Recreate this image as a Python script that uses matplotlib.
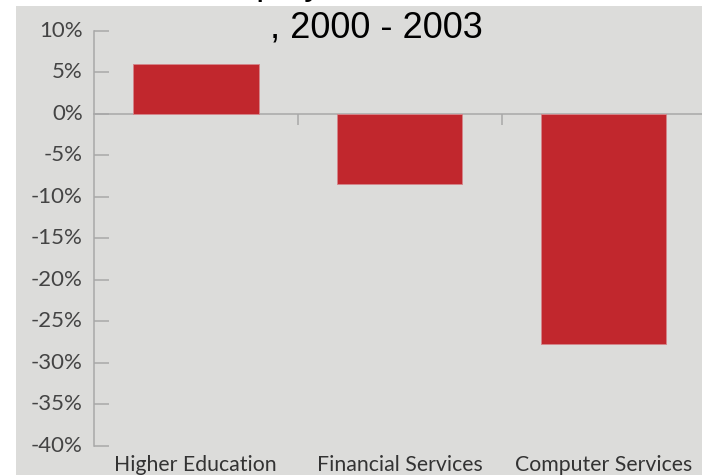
import numpy as np
import matplotlib
matplotlib.use("Agg")
import matplotlib.pyplot as plt
import matplotlib.transforms as mtransforms
from matplotlib.patches import Rectangle

# Employment change by industry, 2000 - 2003 (percent)
categories = ["Higher Education", "Financial Services", "Computer Services"]
changes = [6.0, -8.5, -27.7]
y_ticks = list(range(-40, 11, 5))
y_tick_labels = [f"{v}%" for v in y_ticks]
title_lines = ["Employment Growth", ", 2000 - 2003"]

W, H = 702, 475
fig = plt.figure(figsize=(W / 100, H / 100), dpi=100, facecolor="white")

# grey panel behind the chart
fig.patches.append(Rectangle((16 / W, 0), 1, (H - 6) / H, transform=fig.transFigure,
                             facecolor="#dcdcda", edgecolor="none", zorder=-10))

left, right = 93.8, 705.7
top, bottom = 30.7, 445.7
ax = fig.add_axes([left / W, 1 - bottom / H, (right - left) / W, (bottom - top) / H])
ax.set_facecolor("none")

x = np.arange(len(categories))
ax.bar(x, changes, width=0.615, color="#c1272d", edgecolor="#d4858a", linewidth=0.7, zorder=2)

ax.set_xlim(-0.5, len(categories) - 0.5)
ax.set_ylim(-40, 10)

axis_grey = "#a8a8a8"
for side in ("top", "right", "bottom"):
    ax.spines[side].set_visible(False)
ax.spines["left"].set_color(axis_grey)
ax.spines["left"].set_linewidth(1.1)

label_font = "Lato"
ax.set_yticks(y_ticks, y_tick_labels, fontfamily=label_font)
ax.tick_params(axis="y", direction="in", length=11, width=1.1, color=axis_grey,
               pad=8, labelsize=16, labelcolor="#444444")
lift = mtransforms.ScaledTranslation(0, 2 / 100, fig.dpi_scale_trans)
for lbl in ax.get_yticklabels():
    lbl.set_transform(lbl.get_transform() + lift)

ax.set_xticks(x, categories, fontfamily=label_font)
ax.tick_params(axis="x", length=0, pad=6.5, labelsize=15.3, labelcolor="#333333")

# zero baseline with small separators between categories
zero_frac = (0 - (-40)) / (10 - (-40))
base = ax.secondary_xaxis(zero_frac)
base.set_xticks(x[:-1] + 0.5)
base.tick_params(axis="x", direction="in", length=8, width=1.1, color=axis_grey,
                 labeltop=False, labelbottom=False)
for sp in base.spines.values():
    sp.set_color(axis_grey)
    sp.set_linewidth(1.1)

title_x = 376 / W
fig.text(title_x - 10 / W, 1 + 6.5 / H, title_lines[0], ha="center", va="baseline",
         fontsize=26, family="Liberation Sans", color="black")
fig.text(title_x, 1 - 37.3 / H, title_lines[1], ha="center", va="baseline",
         fontsize=26, family="Liberation Sans", color="black")

fig.savefig("out.png", dpi=100, facecolor=fig.get_facecolor())
